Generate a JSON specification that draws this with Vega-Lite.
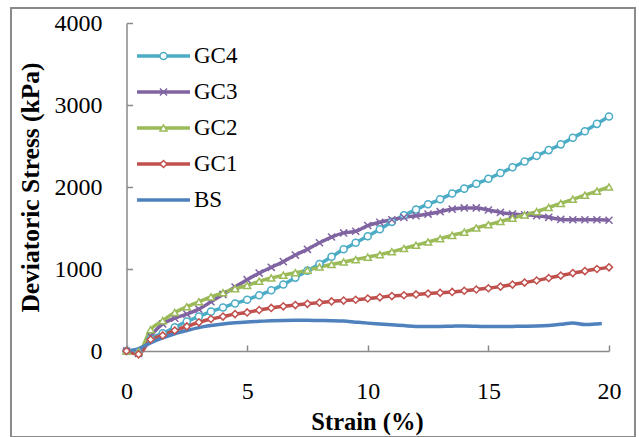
{
  "$schema": "https://vega.github.io/schema/vega-lite/v6.json",
  "width": 624,
  "height": 429,
  "autosize": {"type": "none"},
  "padding": {"left": 11, "top": 8, "right": 4, "bottom": 0},
  "background": "white",
  "config": {
    "view": {"stroke": "#8a8a8a", "strokeWidth": 2},
    "font": "Liberation Serif",
    "axis": {
      "grid": false,
      "domainColor": "#8a8a8a",
      "domainWidth": 1.5,
      "tickColor": "#8a8a8a",
      "tickWidth": 1.5,
      "tickSize": -6,
      "labelFont": "Liberation Serif",
      "labelFontSize": 24,
      "labelColor": "black",
      "labelFlush": false,
      "labelOverlap": false,
      "titleFont": "Liberation Serif",
      "titleFontSize": 24.5,
      "titleFontWeight": "bold",
      "titleColor": "black"
    }
  },
  "data": {"values": [
    {"series":"GC4","strain":0,"stress":0},{"series":"GC4","strain":0.5,"stress":-20},{"series":"GC4","strain":1,"stress":150},{"series":"GC4","strain":1.5,"stress":215},{"series":"GC4","strain":2,"stress":290},{"series":"GC4","strain":2.5,"stress":360},{"series":"GC4","strain":3,"stress":420},{"series":"GC4","strain":3.5,"stress":480},{"series":"GC4","strain":4,"stress":530},{"series":"GC4","strain":4.5,"stress":580},{"series":"GC4","strain":5,"stress":625},{"series":"GC4","strain":5.5,"stress":680},{"series":"GC4","strain":6,"stress":740},{"series":"GC4","strain":6.5,"stress":810},{"series":"GC4","strain":7,"stress":895},{"series":"GC4","strain":7.5,"stress":980},{"series":"GC4","strain":8,"stress":1060},{"series":"GC4","strain":8.5,"stress":1150},{"series":"GC4","strain":9,"stress":1240},{"series":"GC4","strain":9.5,"stress":1320},{"series":"GC4","strain":10,"stress":1400},{"series":"GC4","strain":10.5,"stress":1485},{"series":"GC4","strain":11,"stress":1575},{"series":"GC4","strain":11.5,"stress":1655},{"series":"GC4","strain":12,"stress":1725},{"series":"GC4","strain":12.5,"stress":1790},{"series":"GC4","strain":13,"stress":1850},{"series":"GC4","strain":13.5,"stress":1920},{"series":"GC4","strain":14,"stress":1980},{"series":"GC4","strain":14.5,"stress":2040},{"series":"GC4","strain":15,"stress":2100},{"series":"GC4","strain":15.5,"stress":2170},{"series":"GC4","strain":16,"stress":2240},{"series":"GC4","strain":16.5,"stress":2310},{"series":"GC4","strain":17,"stress":2380},{"series":"GC4","strain":17.5,"stress":2450},{"series":"GC4","strain":18,"stress":2520},{"series":"GC4","strain":18.5,"stress":2600},{"series":"GC4","strain":19,"stress":2680},{"series":"GC4","strain":19.5,"stress":2770},{"series":"GC4","strain":20,"stress":2860},
    {"series":"GC3","strain":0,"stress":0},{"series":"GC3","strain":0.5,"stress":-30},{"series":"GC3","strain":1,"stress":180},{"series":"GC3","strain":1.5,"stress":330},{"series":"GC3","strain":2,"stress":400},{"series":"GC3","strain":2.5,"stress":450},{"series":"GC3","strain":3,"stress":510},{"series":"GC3","strain":3.5,"stress":600},{"series":"GC3","strain":4,"stress":690},{"series":"GC3","strain":4.5,"stress":780},{"series":"GC3","strain":5,"stress":870},{"series":"GC3","strain":5.5,"stress":950},{"series":"GC3","strain":6,"stress":1020},{"series":"GC3","strain":6.5,"stress":1090},{"series":"GC3","strain":7,"stress":1170},{"series":"GC3","strain":7.5,"stress":1240},{"series":"GC3","strain":8,"stress":1320},{"series":"GC3","strain":8.5,"stress":1390},{"series":"GC3","strain":9,"stress":1440},{"series":"GC3","strain":9.5,"stress":1460},{"series":"GC3","strain":10,"stress":1530},{"series":"GC3","strain":10.5,"stress":1570},{"series":"GC3","strain":11,"stress":1600},{"series":"GC3","strain":11.5,"stress":1630},{"series":"GC3","strain":12,"stress":1650},{"series":"GC3","strain":12.5,"stress":1670},{"series":"GC3","strain":13,"stress":1700},{"series":"GC3","strain":13.5,"stress":1730},{"series":"GC3","strain":14,"stress":1745},{"series":"GC3","strain":14.5,"stress":1745},{"series":"GC3","strain":15,"stress":1720},{"series":"GC3","strain":15.5,"stress":1690},{"series":"GC3","strain":16,"stress":1670},{"series":"GC3","strain":16.5,"stress":1660},{"series":"GC3","strain":17,"stress":1650},{"series":"GC3","strain":17.5,"stress":1630},{"series":"GC3","strain":18,"stress":1605},{"series":"GC3","strain":18.5,"stress":1600},{"series":"GC3","strain":19,"stress":1600},{"series":"GC3","strain":19.5,"stress":1600},{"series":"GC3","strain":20,"stress":1595},
    {"series":"GC2","strain":0,"stress":0},{"series":"GC2","strain":0.5,"stress":-10},{"series":"GC2","strain":1,"stress":260},{"series":"GC2","strain":1.5,"stress":370},{"series":"GC2","strain":2,"stress":470},{"series":"GC2","strain":2.5,"stress":540},{"series":"GC2","strain":3,"stress":600},{"series":"GC2","strain":3.5,"stress":660},{"series":"GC2","strain":4,"stress":710},{"series":"GC2","strain":4.5,"stress":760},{"series":"GC2","strain":5,"stress":800},{"series":"GC2","strain":5.5,"stress":850},{"series":"GC2","strain":6,"stress":890},{"series":"GC2","strain":6.5,"stress":925},{"series":"GC2","strain":7,"stress":955},{"series":"GC2","strain":7.5,"stress":985},{"series":"GC2","strain":8,"stress":1025},{"series":"GC2","strain":8.5,"stress":1055},{"series":"GC2","strain":9,"stress":1085},{"series":"GC2","strain":9.5,"stress":1115},{"series":"GC2","strain":10,"stress":1145},{"series":"GC2","strain":10.5,"stress":1175},{"series":"GC2","strain":11,"stress":1210},{"series":"GC2","strain":11.5,"stress":1250},{"series":"GC2","strain":12,"stress":1290},{"series":"GC2","strain":12.5,"stress":1330},{"series":"GC2","strain":13,"stress":1370},{"series":"GC2","strain":13.5,"stress":1410},{"series":"GC2","strain":14,"stress":1450},{"series":"GC2","strain":14.5,"stress":1500},{"series":"GC2","strain":15,"stress":1540},{"series":"GC2","strain":15.5,"stress":1580},{"series":"GC2","strain":16,"stress":1620},{"series":"GC2","strain":16.5,"stress":1660},{"series":"GC2","strain":17,"stress":1700},{"series":"GC2","strain":17.5,"stress":1750},{"series":"GC2","strain":18,"stress":1800},{"series":"GC2","strain":18.5,"stress":1850},{"series":"GC2","strain":19,"stress":1900},{"series":"GC2","strain":19.5,"stress":1950},{"series":"GC2","strain":20,"stress":2000},
    {"series":"GC1","strain":0,"stress":0},{"series":"GC1","strain":0.5,"stress":-40},{"series":"GC1","strain":1,"stress":140},{"series":"GC1","strain":1.5,"stress":190},{"series":"GC1","strain":2,"stress":250},{"series":"GC1","strain":2.5,"stress":300},{"series":"GC1","strain":3,"stress":350},{"series":"GC1","strain":3.5,"stress":390},{"series":"GC1","strain":4,"stress":420},{"series":"GC1","strain":4.5,"stress":450},{"series":"GC1","strain":5,"stress":470},{"series":"GC1","strain":5.5,"stress":500},{"series":"GC1","strain":6,"stress":525},{"series":"GC1","strain":6.5,"stress":545},{"series":"GC1","strain":7,"stress":560},{"series":"GC1","strain":7.5,"stress":575},{"series":"GC1","strain":8,"stress":590},{"series":"GC1","strain":8.5,"stress":605},{"series":"GC1","strain":9,"stress":615},{"series":"GC1","strain":9.5,"stress":625},{"series":"GC1","strain":10,"stress":640},{"series":"GC1","strain":10.5,"stress":655},{"series":"GC1","strain":11,"stress":670},{"series":"GC1","strain":11.5,"stress":680},{"series":"GC1","strain":12,"stress":690},{"series":"GC1","strain":12.5,"stress":700},{"series":"GC1","strain":13,"stress":710},{"series":"GC1","strain":13.5,"stress":720},{"series":"GC1","strain":14,"stress":735},{"series":"GC1","strain":14.5,"stress":750},{"series":"GC1","strain":15,"stress":765},{"series":"GC1","strain":15.5,"stress":785},{"series":"GC1","strain":16,"stress":810},{"series":"GC1","strain":16.5,"stress":835},{"series":"GC1","strain":17,"stress":860},{"series":"GC1","strain":17.5,"stress":890},{"series":"GC1","strain":18,"stress":920},{"series":"GC1","strain":18.5,"stress":950},{"series":"GC1","strain":19,"stress":975},{"series":"GC1","strain":19.5,"stress":1000},{"series":"GC1","strain":20,"stress":1020},
    {"series":"BS","strain":0,"stress":0},{"series":"BS","strain":0.5,"stress":30},{"series":"BS","strain":1,"stress":100},{"series":"BS","strain":1.5,"stress":160},{"series":"BS","strain":2,"stress":210},{"series":"BS","strain":2.5,"stress":250},{"series":"BS","strain":3,"stress":285},{"series":"BS","strain":3.5,"stress":310},{"series":"BS","strain":4,"stress":330},{"series":"BS","strain":4.5,"stress":345},{"series":"BS","strain":5,"stress":355},{"series":"BS","strain":5.5,"stress":362},{"series":"BS","strain":6,"stress":368},{"series":"BS","strain":6.5,"stress":372},{"series":"BS","strain":7,"stress":374},{"series":"BS","strain":7.5,"stress":375},{"series":"BS","strain":8,"stress":372},{"series":"BS","strain":8.5,"stress":370},{"series":"BS","strain":9,"stress":365},{"series":"BS","strain":9.5,"stress":352},{"series":"BS","strain":10,"stress":340},{"series":"BS","strain":10.5,"stress":330},{"series":"BS","strain":11,"stress":320},{"series":"BS","strain":11.5,"stress":310},{"series":"BS","strain":12,"stress":300},{"series":"BS","strain":12.5,"stress":298},{"series":"BS","strain":13,"stress":300},{"series":"BS","strain":13.5,"stress":303},{"series":"BS","strain":14,"stress":305},{"series":"BS","strain":14.5,"stress":302},{"series":"BS","strain":15,"stress":298},{"series":"BS","strain":15.5,"stress":298},{"series":"BS","strain":16,"stress":300},{"series":"BS","strain":16.5,"stress":302},{"series":"BS","strain":17,"stress":305},{"series":"BS","strain":17.5,"stress":312},{"series":"BS","strain":18,"stress":325},{"series":"BS","strain":18.5,"stress":342},{"series":"BS","strain":19,"stress":322},{"series":"BS","strain":19.5,"stress":330},{"series":"BS","strain":19.7,"stress":335}
  ]},
  "encoding": {
    "x": {
      "field": "strain", "type": "quantitative",
      "scale": {"domain": [0, 20], "range": [115.5, 598], "nice": false, "zero": false},
      "axis": {
        "values": [0, 5, 10, 15, 20],
        "format": "d",
        "offset": -86,
        "labelPadding": 34,
        "labelBaseline": "top",
        "title": "Strain (%)",
        "titleX": 356,
        "titleY": 78,
        "titleAlign": "center",
        "titleBaseline": "alphabetic"
      }
    },
    "y": {
      "field": "stress", "type": "quantitative",
      "scale": {"domain": [0, 4000], "range": [343, 15], "nice": false, "zero": false},
      "axis": {
        "values": [0, 1000, 2000, 3000, 4000],
        "format": "d",
        "offset": -115.5,
        "labelPadding": 30.5,
        "labelBaseline": "middle",
        "labelAlign": "right",
        "title": "Deviatoric Stress (kPa)",
        "titleFontSize": 25.5,
        "titleX": -88.5,
        "titleY": 179,
        "titleAngle": 270,
        "titleAlign": "center",
        "titleBaseline": "alphabetic"
      }
    }
  },
  "layer": [
    {
      "mark": {"type": "line", "interpolate": "monotone", "strokeWidth": 3.5},
      "encoding": {
        "stroke": {
          "field": "series", "type": "nominal",
          "scale": {"domain": ["GC4", "GC3", "GC2", "GC1", "BS"], "range": ["#4BACC6", "#8064A2", "#9BBB59", "#C0504D", "#4F81BD"]},
          "legend": {
            "orient": "none",
            "legendX": 124,
            "legendY": 36.5,
            "direction": "vertical",
            "title": null,
            "padding": 0,
            "symbolType": "stroke",
            "symbolSize": 2809,
            "symbolStrokeWidth": 3.5,
            "labelFont": "Liberation Serif",
            "labelFontSize": 23,
            "labelColor": "black",
            "labelOffset": 2,
            "rowPadding": 12,
            "clipHeight": 23
          }
        }
      }
    },
    {
      "transform": [{"filter": "datum.series !== 'BS'"}],
      "mark": {"type": "point", "filled": false, "fill": "white", "size": 50, "strokeWidth": 1.5, "opacity": 1},
      "encoding": {
        "color": {
          "field": "series", "type": "nominal",
          "scale": {"domain": ["GC4", "GC3", "GC2", "GC1"], "range": ["#4BACC6", "#8064A2", "#9BBB59", "#C0504D"]},
          "legend": {
            "orient": "none",
            "legendX": 141,
            "legendY": 36.5,
            "direction": "vertical",
            "title": null,
            "padding": 0,
            "symbolSize": 50,
            "symbolStrokeWidth": 1.5,
            "symbolFillColor": "white",
            "labelFont": "Liberation Serif",
            "labelFontSize": 23,
            "labelExpr": "' '",
            "rowPadding": 12,
            "clipHeight": 23
          }
        },
        "shape": {
          "field": "series", "type": "nominal",
          "scale": {"domain": ["GC4", "GC3", "GC2", "GC1"], "range": ["circle", "M-1,-1L1,1M-1,1L1,-1", "triangle-up", "diamond"]},
          "legend": {
            "orient": "none",
            "legendX": 141,
            "legendY": 36.5,
            "direction": "vertical",
            "title": null,
            "padding": 0,
            "symbolSize": 50,
            "symbolStrokeWidth": 1.5,
            "symbolFillColor": "white",
            "labelFont": "Liberation Serif",
            "labelFontSize": 23,
            "labelExpr": "' '",
            "rowPadding": 12,
            "clipHeight": 23
          }
        }
      }
    }
  ]
}
